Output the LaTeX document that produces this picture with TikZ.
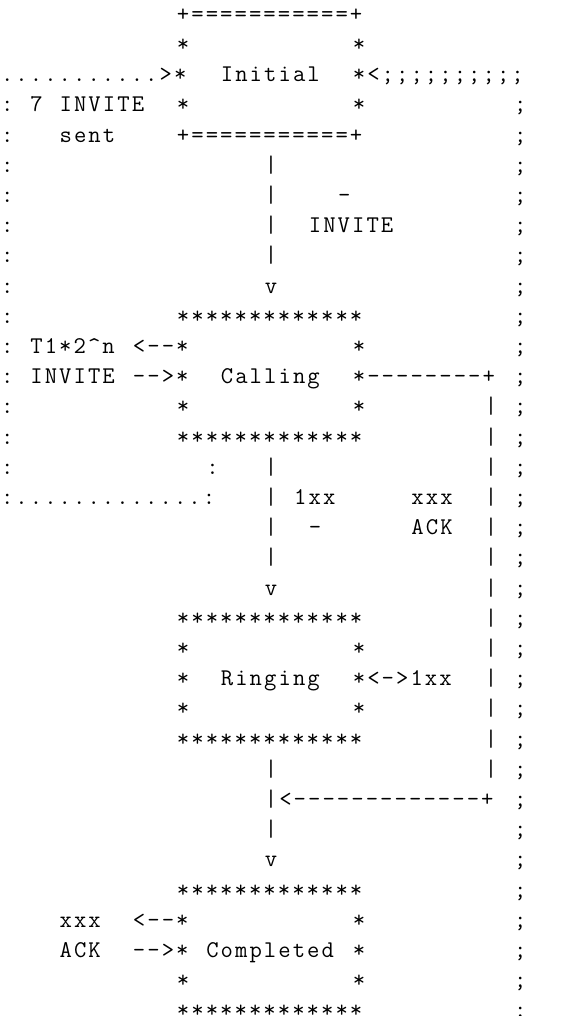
\documentclass[tikz,border=0pt]{standalone}

% fixed character pitch for the ASCII art
\XeTeXinterchartokenstate=1
\newcount\asciichr
\asciichr=33
\loop
  \XeTeXcharclass\asciichr=7
  \advance\asciichr by 1
\ifnum\asciichr<127 \repeat
\XeTeXinterchartoks 7 7 = {\kern1.03pt}

\begin{document}
\begin{tikzpicture}[
  x=7.33pt, y=-15.1pt,
  txt/.style={anchor=base west, inner sep=0pt, outer sep=0pt, xshift=0.52pt, font=\ttfamily\fontsize{12}{14}\selectfont}
]
\useasboundingbox (0,0.295) rectangle (39.56,33.94);

% borders of the art
\foreach \r in {4,...,16} {\node[txt] (lc-\r) at (0,\r) {:};}
\foreach \r in {4,...,34} {\node[txt] (rc-\r) at (35,\r) {;};}
\foreach \r in {14,...,26} {\node[txt] (rb-\r) at (33,\r) {|};}
\foreach \r in {6,7,8,9,16,17,18,19,26,28} {\node[txt] (cb-\r) at (18,\r) {|};}
\foreach \r in {10,20,29} {\node[txt] (tip-\r) at (18,\r) {v};}

% state boxes
\foreach \r in {11,15,21,25,30,34} {\node[txt] (st-\r) at (12,\r) {*************};}
\foreach \r in {2,4,14,22,23,24,33} {\node[txt] (sl-\r) at (12,\r) {*};}
\foreach \r in {2,4,12,14,22,24,31,32,33} {\node[txt] (sr-\r) at (24,\r) {*};}
\node[txt] (init-top) at (12,1) {+===========+};
\node[txt] (init-bot) at (12,5) {+===========+};

% Initial
\node[txt] (retx) at (0,3) {...........>*};
\node[txt] (init) at (15,3) {Initial};
\node[txt] (back) at (24,3) {*<;;;;;;;;;;};
\node[txt] (seven) at (2,4) {7};
\node[txt] (seven-inv) at (4,4) {INVITE};
\node[txt] (sent) at (4,5) {sent};
\node[txt] (dash1) at (23,7) {-};
\node[txt] (inv1) at (21,8) {INVITE};

% Calling
\node[txt] (timer) at (2,12) {T1*2\textasciicircum n};
\node[txt] (timer-arr) at (9,12) {<--*};
\node[txt] (inv2) at (2,13) {INVITE};
\node[txt] (inv2-arr) at (9,13) {-->*};
\node[txt] (calling) at (15,13) {Calling};
\node[txt] (skip) at (24,13) {*--------+};
\node[txt] (retx-end) at (14,16) {:};
\node[txt] (retx-bot) at (0,17) {:.............:};
\node[txt] (prov1) at (20,17) {1xx};
\node[txt] (dash2) at (21,18) {-};
\node[txt] (fin1) at (28,17) {xxx};
\node[txt] (ack1) at (28,18) {ACK};

% Ringing
\node[txt] (ringing) at (15,23) {Ringing};
\node[txt] (prov2) at (24,23) {*<->1xx};
\node[txt] (join) at (18,27) {|<-------------+};

% Completed
\node[txt] (fin2) at (4,31) {xxx};
\node[txt] (fin2-arr) at (9,31) {<--*};
\node[txt] (ack2) at (4,32) {ACK};
\node[txt] (ack2-arr) at (9,32) {-->*};
\node[txt] (completed) at (14,32) {Completed};
\end{tikzpicture}
\end{document}
